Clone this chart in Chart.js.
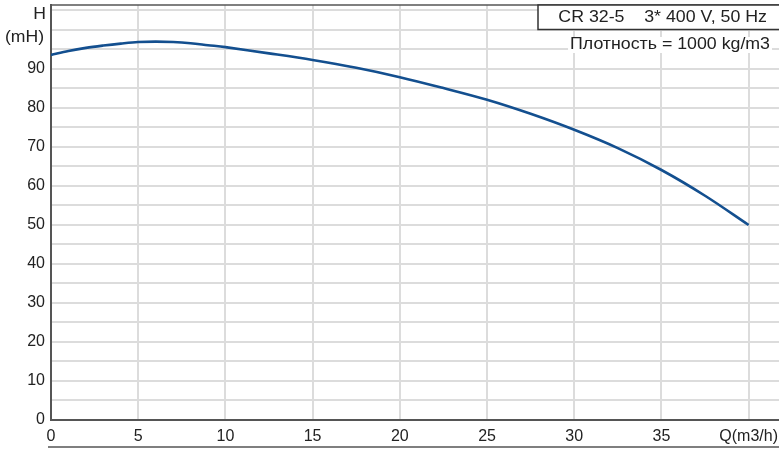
<!DOCTYPE html>
<html>
<head>
<meta charset="utf-8">
<script src="https://cdn.jsdelivr.net/npm/chart.js@4/dist/chart.umd.min.js"></script>
<style>
  html, body { margin: 0; padding: 0; background: #fff; }
  #wrap { width: 779px; height: 449px; position: relative; }
</style>
</head>
<body>
<div id="wrap"><canvas id="c" width="779" height="449"></canvas></div>
<script>
// Pump performance curve: head H (m) versus flow Q (m3/h)
const flowQ = [0, 1, 2, 3, 4, 5, 6, 7, 8, 9, 10, 12.5, 15, 17.5, 20, 22.5, 25, 27.5, 30, 32.5, 35, 37.5, 40];
const headH = [93.6, 94.6, 95.4, 96.0, 96.5, 96.9, 97.0, 96.9, 96.6, 96.1, 95.6, 94.0, 92.3, 90.3, 87.9, 85.1, 82.1, 78.5, 74.4, 69.7, 64.1, 57.5, 50.0];

const xTickValues = [0, 5, 10, 15, 20, 25, 30, 35, 40];
const yTickValues = [0, 10, 20, 30, 40, 50, 60, 70, 80, 90];
const xAxisName = 'Q(m3/h)';
const yAxisName = 'H';
const yAxisUnit = '(mH)';
const titleText = 'CR 32-5    3* 400 V, 50 Hz';
const densityText = 'Плотность = 1000 kg/m3';

const FONT = '"Liberation Sans", Arial, sans-serif';
const TXT = '#222';

// text drawn slightly widened, right edge anchored at x
function wideText(ctx, text, x, y, sx) {
  ctx.save();
  ctx.translate(x, y);
  ctx.scale(sx, 1);
  ctx.textAlign = 'right';
  ctx.textBaseline = 'middle';
  ctx.fillText(text, 0, 0);
  ctx.restore();
}

const annotations = {
  id: 'annotations',
  afterDraw(chart) {
    const ctx = chart.ctx;
    const a = chart.chartArea;
    ctx.save();
    // top frame line
    ctx.strokeStyle = '#555';
    ctx.lineWidth = 1.5;
    ctx.beginPath();
    ctx.moveTo(a.left, a.top);
    ctx.lineTo(a.right, a.top);
    ctx.stroke();
    // lower frame line under the flow labels
    ctx.beginPath();
    ctx.moveTo(a.left - 3, 447);
    ctx.lineTo(a.right, 447);
    ctx.stroke();

    // title box
    ctx.fillStyle = '#fff';
    ctx.fillRect(538, a.top, 260, 24.5);
    ctx.strokeStyle = '#333';
    ctx.lineWidth = 1.5;
    ctx.strokeRect(538, a.top, 260, 24.5);
    ctx.font = '16px ' + FONT;
    ctx.fillStyle = TXT;
    wideText(ctx, titleText, 767, 18, 1.11);

    // density note with white backing
    const w = ctx.measureText(densityText).width * 1.11;
    ctx.fillStyle = '#fff';
    ctx.fillRect(770 - w - 2, 37, w + 4, 16);
    ctx.fillStyle = TXT;
    wideText(ctx, densityText, 770, 45, 1.11);

    // vertical axis name and unit
    wideText(ctx, yAxisName, 46, 15, 1.1);
    wideText(ctx, yAxisUnit, 44, 38, 1.1);
    ctx.restore();
  }
};

new Chart(document.getElementById('c'), {
  type: 'line',
  data: {
    datasets: [{
      data: flowQ.map((q, i) => ({ x: q, y: headH[i] })),
      borderColor: '#134f8f',
      borderWidth: 2.6,
      pointRadius: 0,
      fill: false,
      tension: 0.35
    }]
  },
  options: {
    responsive: false,
    animation: false,
    layout: { padding: { top: 5, right: 0, left: 0, bottom: 0 } },
    plugins: { legend: { display: false }, tooltip: { enabled: false } },
    scales: {
      x: {
        type: 'linear',
        min: 0,
        max: 41.74,
        afterFit(s) { s.height = 29; s.paddingLeft = 0; s.paddingRight = 0; },
        afterBuildTicks(s) { s.ticks = xTickValues.map(v => ({ value: v })); },
        grid: { color: '#dcdcdc', lineWidth: 2, drawTicks: false },
        border: { color: '#555', width: 2 },
        ticks: {
          padding: 7,
          maxRotation: 0,
          autoSkip: false,
          color: TXT,
          font: { family: FONT, size: 16 },
          callback: v => (v === 40 ? xAxisName : String(v))
        }
      },
      y: {
        type: 'linear',
        min: 0,
        max: 106.4,
        afterFit(s) { s.width = 51; s.paddingTop = 0; s.paddingBottom = 0; },
        afterBuildTicks(s) {
          const t = [];
          for (let v = 0; v <= 105; v += 5) t.push({ value: v });
          s.ticks = t;
        },
        grid: { color: '#dcdcdc', lineWidth: 2, drawTicks: false },
        border: { color: '#555', width: 2 },
        ticks: {
          padding: 6,
          autoSkip: false,
          color: TXT,
          font: { family: FONT, size: 16 },
          callback: v => (yTickValues.includes(v) ? String(v) : '')
        }
      }
    }
  },
  plugins: [annotations]
});
</script>
</body>
</html>
